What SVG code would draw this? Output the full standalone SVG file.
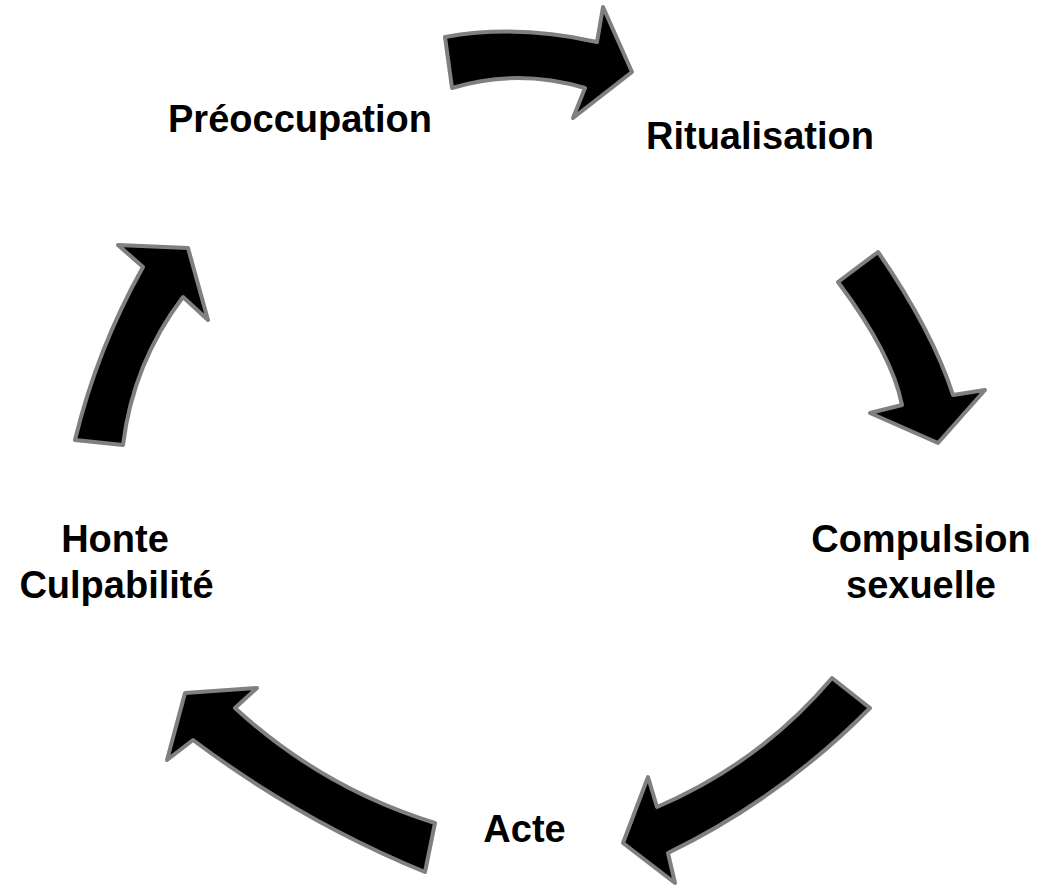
<svg xmlns="http://www.w3.org/2000/svg" width="1051" height="888" viewBox="0 0 1051 888">
<style>
.arr{fill:#000;stroke:#808080;stroke-width:4;stroke-linejoin:round}
.lbl{font-family:"Liberation Sans",Arial,sans-serif;font-weight:bold;font-size:38px;fill:#000;text-anchor:middle}
</style>
<rect width="1051" height="888" fill="#fff"/>
<g id="connectors">
<path id="arrow1" class="arr" d="M445,37 Q517,24 597,42 L603,7 L632,72 L573,118 L585,88 Q517,68 452,88 Z"/>
<path id="arrow2" class="arr" d="M878,252 Q932,330 953,395 L985,390 L938,443 L870,413 L902,405 Q892,354 838,282 Z"/>
<path id="arrow3" class="arr" d="M870,708 Q781,798 668,853 L675,883 L623,843 L648,777 L657,807 Q760,763 832,678 Z"/>
<path id="arrow4" class="arr" d="M425,872 Q301,821 193,740 L167,760 L185,693 L257,688 L235,708 Q322,788 435,823 Z"/>
<path id="arrow5" class="arr" d="M75,440 Q97,349 143,267 L118,245 L188,248 L208,320 L183,297 Q133,363 123,445 Z"/>
</g>
<g id="node-preoccupation"><text class="lbl" x="300" y="132">Préoccupation</text></g>
<g id="node-ritualisation"><text class="lbl" x="760" y="149">Ritualisation</text></g>
<g id="node-compulsion"><text class="lbl" x="921" y="552">Compulsion</text><text class="lbl" x="921" y="598">sexuelle</text></g>
<g id="node-acte"><text class="lbl" x="524.5" y="842">Acte</text></g>
<g id="node-honte"><text class="lbl" x="115" y="552">Honte</text><text class="lbl" x="116.5" y="598">Culpabilité</text></g>
</svg>
